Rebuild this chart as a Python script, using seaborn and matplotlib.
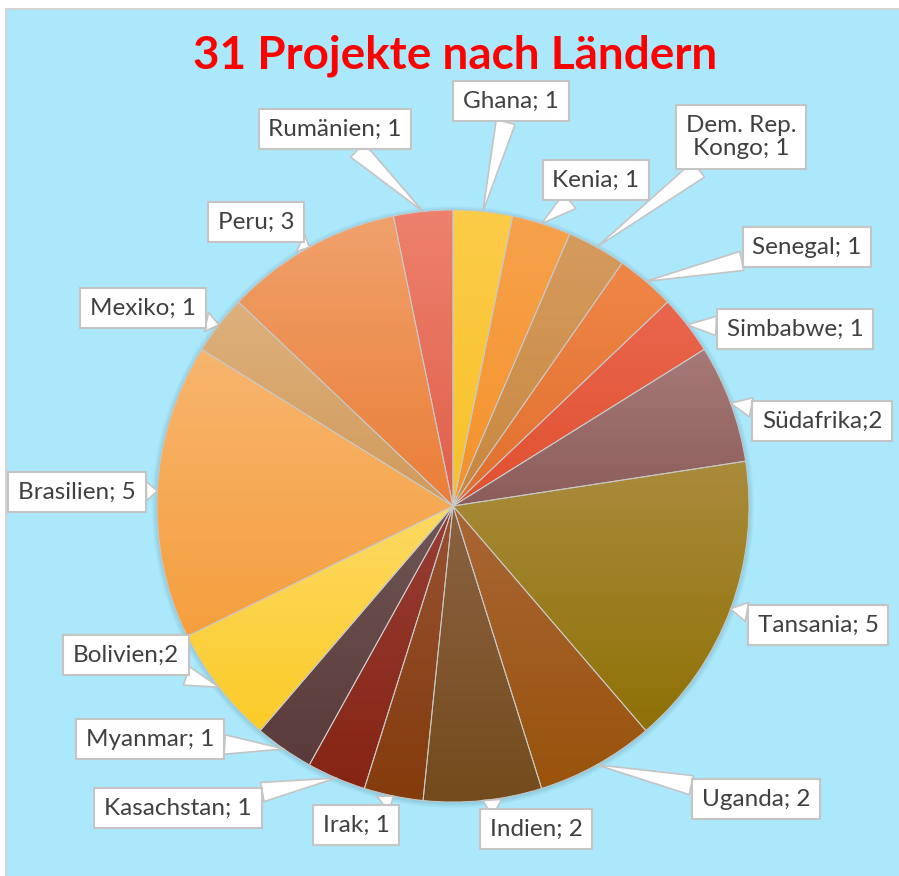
import numpy as np
import matplotlib.pyplot as plt
import seaborn as sns
from matplotlib.patches import Circle

sns.set_theme(style="white")
plt.rcParams["font.family"] = ["Lato", "DejaVu Sans"]

# data, clockwise from 12 o'clock
countries = ["Ghana", "Kenia", "Dem. Rep.\nKongo", "Senegal", "Simbabwe", "Südafrika",
             "Tansania", "Uganda", "Indien", "Irak", "Kasachstan", "Myanmar",
             "Bolivien", "Brasilien", "Mexiko", "Peru", "Rumänien"]
projects = [1, 1, 1, 1, 1, 2, 5, 2, 2, 1, 1, 1, 2, 5, 1, 3, 1]
seps = ["; ", "; ", "; ", "; ", "; ", ";", "; ", "; ", "; ", "; ", "; ", "; ",
        ";", "; ", "; ", "; ", "; "]

# slice gradients (top -> bottom)
top_colors = ["#fdcc48", "#f7a24c", "#d59b5e", "#ef8648", "#e9664e", "#a67a78",
              "#a98b3c", "#a96635", "#8b6242", "#975232", "#973e35", "#6f5656",
              "#fdd963", "#f8b56d", "#ddb17d", "#f0a16b", "#ed816d"]
bottom_colors = ["#f6c12a", "#f4922a", "#c8873f", "#e16f2c", "#e0502e", "#8b5c5a",
                 "#8f7106", "#99530c", "#744b1c", "#843c0c", "#862414", "#5a3a3a",
                 "#fbcb27", "#f59f3e", "#d09a5a", "#ea7e38", "#e05f4a"]

# label box centres (image pixels)
label_x = [511, 596, 741, 807, 795, 822, 818, 756, 536, 356, 178, 150, 126, 77, 143, 256, 335]
label_y = [101, 180, 137, 247, 329, 421, 625, 799, 829, 825, 808, 739, 655, 492, 308, 222, 129]

W, H = 899, 876
fig = plt.figure(figsize=(W / 100, H / 100), dpi=100, facecolor="white")
ax = fig.add_axes([6 / W, 0, 1 - 6 / W, 1 - 9 / H])
ax.set_facecolor("#abe8fb")

cx, cy, r = 453, H - 506, 296

# soft shadow
for k in range(6):
    ax.add_patch(Circle((cx, cy - 1), r + k, color="#1b4f66", alpha=0.03, zorder=0.5, lw=0))

wedges, _ = ax.pie(projects, startangle=90, counterclock=False, center=(cx, cy), radius=r,
                   colors=bottom_colors, frame=True,
                   wedgeprops=dict(edgecolor="#c9c9c9", linewidth=0.7))

for w, c0, c1 in zip(wedges, top_colors, bottom_colors):
    ext = w.get_path().get_extents()
    grad = np.array(sns.blend_palette([c0, c1], n_colors=64))[:, None, :]
    im = ax.imshow(grad, extent=(ext.x0, ext.x1, ext.y0, ext.y1), origin="upper",
                   aspect="auto", interpolation="bilinear", zorder=1)
    im.set_clip_path(w)
    w.set_facecolor("none")
    w.set_zorder(2)

for i, w in enumerate(wedges):
    mid = np.deg2rad((w.theta1 + w.theta2) / 2)
    px, py = cx + r * np.cos(mid), cy + r * np.sin(mid)
    ax.annotate(f"{countries[i]}{seps[i]}{projects[i]}", xy=(px, py),
                xytext=(label_x[i], H - label_y[i]), ha="center", va="center",
                fontsize=17.5, color="#404040", zorder=5, linespacing=1.1,
                bbox=dict(boxstyle="square,pad=0.4", fc="white", ec="#c4c4c4", lw=1.5),
                arrowprops=dict(arrowstyle="wedge,tail_width=0.8,shrink_factor=0.5",
                                fc="white", ec="#c4c4c4", lw=1.2, shrinkA=0, shrinkB=0))

ax.text(455, H - 56, "31 Projekte nach Ländern", ha="center", va="center",
        fontsize=33, fontweight="bold", color="#ff0000")

ax.set_xlim(6, W)
ax.set_ylim(0, H - 9)
ax.set_aspect("auto")
ax.set_xticks([])
ax.set_yticks([])
for s in ["right", "bottom"]:
    ax.spines[s].set_visible(False)
for s in ["left", "top"]:
    ax.spines[s].set_color("#d4d4d4")
    ax.spines[s].set_linewidth(1.5)

fig.savefig("out.png", dpi=100, facecolor="white")
